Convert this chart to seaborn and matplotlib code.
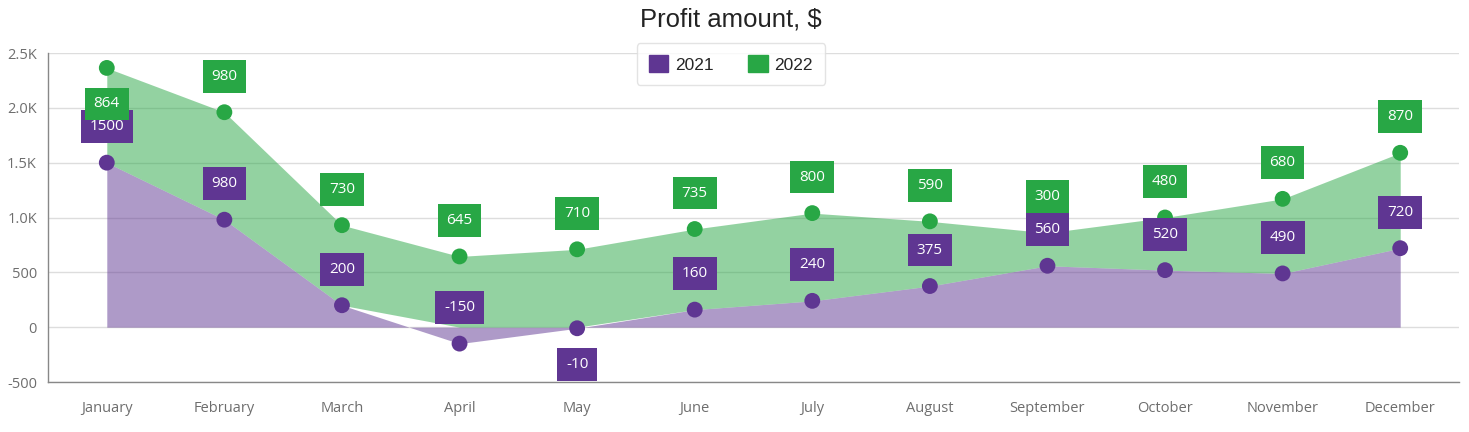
import numpy as np
import pandas as pd
import matplotlib
matplotlib.use("Agg")
import matplotlib.pyplot as plt
from matplotlib.patches import Patch
import seaborn as sns

### data
months = ["January", "February", "March", "April", "May", "June", "July",
          "August", "September", "October", "November", "December"]
profit_2021 = [1500, 980, 200, -150, -10, 160, 240, 375, 560, 520, 490, 720]
profit_2022 = [864, 980, 730, 645, 710, 735, 800, 590, 300, 480, 680, 870]
y_ticks = [-500, 0, 500, 1000, 1500, 2000, 2500]
y_tick_labels = ["-500", "0", "500", "1.0K", "1.5K", "2.0K", "2.5K"]

### colours
purple = "#5f3692"
green = "#28a745"
text_grey = "#6e6e6e"

sns.set_style("white")
plt.rcParams["font.family"] = ["Open Sans", "DejaVu Sans"]

fig = plt.figure(figsize=(14.69, 4.32), dpi=100)
ax = fig.add_axes([48 / 1469, 1 - 382 / 432, 1411 / 1469, 329 / 432])

x = np.arange(len(months))
v21 = np.array(profit_2021, dtype=float)
v22 = np.array(profit_2022, dtype=float)

### stacked area: positive values stack on positive side, negatives on their own
base22 = np.clip(v21, 0, None)
top22 = base22 + v22

ax.fill_between(x, 0, v21, color=purple, alpha=0.5, lw=0, zorder=2)
ax.fill_between(x, base22, top22, color=green, alpha=0.5, lw=0, zorder=2)

### points through seaborn
pts = pd.DataFrame({
    "month": np.concatenate([x, x]),
    "value": np.concatenate([v21, top22]),
    "year": ["2021"] * len(x) + ["2022"] * len(x),
})
sns.scatterplot(data=pts, x="month", y="value", hue="year",
                palette={"2021": purple, "2022": green}, s=130,
                edgecolor="none", legend=False, ax=ax, zorder=4)

ax.set_xlim(-0.5, len(months) - 0.5)
ax.set_ylim(-500, 2500)

### value labels above (or below for negatives) the points, flipped if outside plot
units_per_px = 3000 / 329
offset = 36 * units_per_px
half_box = 16 * units_per_px


def place_label(xi, y_point, value, color):
    y_lab = y_point + offset if value >= 0 else y_point - offset
    if y_lab + half_box > 2500 or y_lab - half_box < -500:
        y_lab = y_point - offset if value >= 0 else y_point + offset
    ax.text(xi, y_lab, f"{int(value)}", ha="center", va="center",
            color="white", fontsize=11, zorder=6,
            bbox=dict(boxstyle="square,pad=0.58", fc=color, ec="none"))


for i in x:
    place_label(i, v21[i], v21[i], purple)
for i in x:
    place_label(i, top22[i], v22[i], green)

### axes styling
ax.set_yticks(y_ticks)
ax.set_yticklabels(y_tick_labels)
ax.yaxis.grid(True, color="#dddddd", lw=1, zorder=0)
ax.set_xticks(x)
ax.set_xticklabels(months)
ax.set_xticks(np.arange(-0.5, len(months)), minor=True)
ax.tick_params(axis="x", which="major", length=0, pad=14, labelsize=10.5,
               labelcolor=text_grey)
ax.tick_params(axis="x", which="minor", length=7, color="#888888", width=1)
ax.tick_params(axis="y", length=5, color="#888888", width=1, labelsize=10.5,
               labelcolor=text_grey, pad=3)
for side in ["top", "right"]:
    ax.spines[side].set_visible(False)
for side in ["left", "bottom"]:
    ax.spines[side].set_color("#888888")
    ax.spines[side].set_linewidth(1)
ax.set_xlabel("")
ax.set_ylabel("")

### title and legend
fig.text(731 / 1469, 1 - 20 / 432, "Profit amount, $", ha="center", va="center",
         fontsize=18.5, color="#232323", family=["Liberation Sans", "DejaVu Sans"])
handles = [Patch(color=purple, label="2021"), Patch(color=green, label="2022")]
leg = fig.legend(handles=handles, loc="center", bbox_to_anchor=(731 / 1469, 1 - 64 / 432),
                 ncol=2, frameon=True, handlelength=1.1, handleheight=1.1,
                 handletextpad=0.4, columnspacing=2.0, borderpad=0.7,
                 prop={"family": ["Liberation Sans", "DejaVu Sans"], "size": 12.5})
leg.get_frame().set_edgecolor("#dddddd")
leg.get_frame().set_linewidth(1)
leg.set_zorder(10)

plt.savefig("out.png", dpi=100)
